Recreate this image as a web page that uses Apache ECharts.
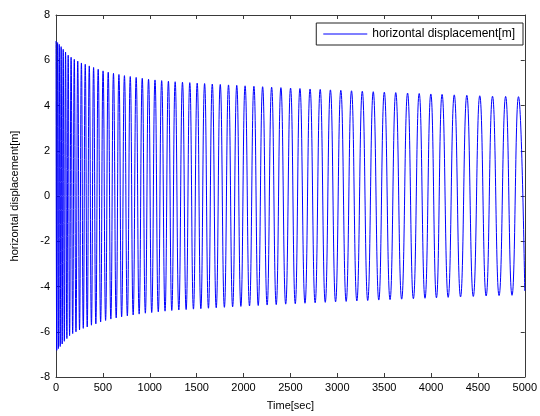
<!DOCTYPE html>
<html>
<head>
<meta charset="utf-8">
<script src="https://cdn.jsdelivr.net/npm/echarts@6/dist/echarts.min.js"></script>
<style>
html,body{margin:0;padding:0;background:#fff;}
#chart{width:540px;height:416px;}
</style>
</head>
<body>
<div id="chart"></div>
<script>
// Extrema of the oscillation (time [sec], displacement [m])
var extremaTime = [
  0,8,17,26,35,45,55,66,77,89,
  102,116,130,145,161,178,195,213,232,251,
  271,291,312,333,355,378,401,425,450,476,
  502,529,557,585,613,642,
  671,700,730,761,792,823,855,887,920,953,
  987,1021,1056,1091,1127,1163,1199,1235,1271,1310,
  1349,1388,1427,1466,1506,1545,1585,1626,1667,1709,
  1752,1796,1840,1884,1928,1972,2017,2064,2111,2157,
  2204,2252,2300,2349,2399,2450,2502,2552,2602,2656,
  2710,2764,2818,2872,2927,2982,3038,3095,3152,3209,
  3267,3325,3384,3443,3502,3563,3624,3687,3750,3812,
  3874,3936,3998,4058,4118,4183,4248,4315,4382,4451,
  4520,4588,4656,4726,4796,4864,4933,5000
];
var extremaValue = [
  6.85,-6.82,6.78,-6.74,6.7,-6.65,6.6,-6.54,6.48,-6.42,
  6.36,-6.3,6.22,-6.17,6.13,-6.08,6.04,-6.0,5.96,-5.92,
  5.88,-5.85,5.82,-5.79,5.75,-5.71,5.68,-5.65,5.6,-5.57,
  5.53,-5.5,5.47,-5.44,5.42,-5.39,
  5.37,-5.34,5.32,-5.3,5.28,-5.26,5.24,-5.22,5.2,-5.18,
  5.16,-5.15,5.13,-5.12,5.1,-5.09,5.07,-5.06,5.05,-5.04,
  5.03,-5.02,5.01,-5.0,4.99,-4.98,4.97,-4.96,4.95,-4.94,
  4.93,-4.92,4.91,-4.9,4.89,-4.88,4.87,-4.86,4.85,-4.84,
  4.83,-4.82,4.81,-4.8,4.79,-4.78,4.77,-4.76,4.75,-4.74,
  4.73,-4.72,4.71,-4.7,4.69,-4.68,4.67,-4.66,4.65,-4.64,
  4.63,-4.62,4.61,-4.6,4.59,-4.58,4.57,-4.56,4.55,-4.54,
  4.53,-4.52,4.51,-4.5,4.49,-4.48,4.47,-4.46,4.45,-4.44,
  4.43,-4.42,4.41,-4.4,4.4,-4.39,4.39,-4.2
];
var seriesName = 'horizontal displacement[m]';
var xTitle = 'Time[sec]';
var yTitle = 'horizontal displacement[m]';

var data = extremaTime.map(function (t, i) { return [t, extremaValue[i]]; });

var axisColor = '#3a3a3a';
var lineColor = '#0000ff';
var font = 'Liberation Sans, Arial, sans-serif';

var chart = echarts.init(document.getElementById('chart'), null, {renderer: 'canvas'});
chart.setOption({
  animation: false,
  backgroundColor: '#fff',
  color: [lineColor],
  grid: {left: 56, right: 14, top: 15, bottom: 33, containLabel: false},
  legend: {
    data: [{name: seriesName, icon: 'rect', itemStyle: {color: lineColor}}],
    right: 17, top: 23,
    itemWidth: 44, itemHeight: 1,
    padding: [5, 8, 5, 7],
    borderColor: '#222', borderWidth: 1, borderRadius: 0,
    backgroundColor: '#fff',
    textStyle: {fontFamily: font, fontSize: 12, color: '#000'}
  },
  xAxis: [{
    type: 'value', min: 0, max: 5000, interval: 500,
    name: xTitle, nameLocation: 'middle', nameGap: 23,
    nameTextStyle: {fontFamily: font, fontSize: 11, color: '#000'},
    axisLine: {show: true, onZero: false, lineStyle: {color: axisColor, width: 1}},
    axisTick: {show: true, inside: true, length: 4, lineStyle: {color: axisColor}},
    axisLabel: {fontFamily: font, fontSize: 11, color: '#000', margin: 5,
      formatter: function (v) { return String(v); }},
    splitLine: {show: false}
  }, {
    type: 'value', position: 'top', min: 0, max: 5000, interval: 500,
    axisLine: {show: true, onZero: false, lineStyle: {color: axisColor, width: 1}},
    axisTick: {show: true, inside: true, length: 4, lineStyle: {color: axisColor}},
    axisLabel: {show: false}, splitLine: {show: false}
  }],
  yAxis: [{
    type: 'value', min: -8, max: 8, interval: 2,
    name: yTitle, nameLocation: 'middle', nameGap: 36, nameRotate: 90,
    nameTextStyle: {fontFamily: font, fontSize: 11, color: '#000'},
    axisLine: {show: true, onZero: false, lineStyle: {color: axisColor, width: 1}},
    axisTick: {show: true, inside: true, length: 4, lineStyle: {color: axisColor}},
    axisLabel: {fontFamily: font, fontSize: 11, color: '#000', margin: 6},
    splitLine: {show: false}
  }, {
    type: 'value', position: 'right', min: -8, max: 8, interval: 2,
    axisLine: {show: true, onZero: false, lineStyle: {color: axisColor, width: 1}},
    axisTick: {show: true, inside: true, length: 4, lineStyle: {color: axisColor}},
    axisLabel: {show: false}, splitLine: {show: false}
  }],
  series: [{
    name: seriesName,
    type: 'line',
    xAxisIndex: 0, yAxisIndex: 0,
    data: data,
    smooth: 0.5,
    symbol: 'none',
    lineStyle: {color: lineColor, width: 1},
    itemStyle: {color: lineColor}
  }]
});
</script>
</body>
</html>
